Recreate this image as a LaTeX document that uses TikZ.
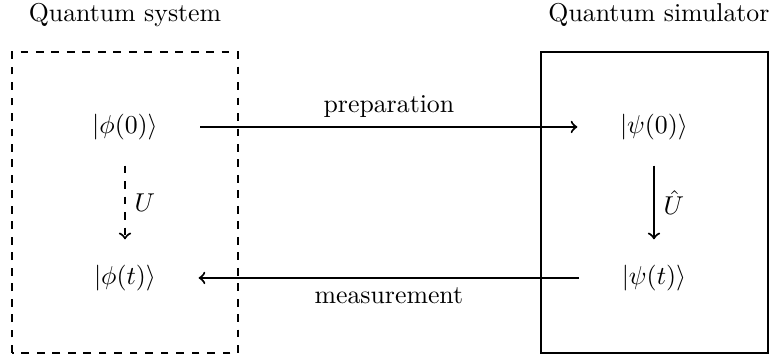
\documentclass[tikz,border=0pt]{standalone}
\usepackage{amsmath, amssymb}
\usetikzlibrary{positioning}

\begin{document}
\begin{tikzpicture}[
    >=to, thick, node distance=2.057cm and 7.207cm, on grid,
    state/.style={inner sep=3.33pt},
    link/.style={->, shorten >=0.45cm, shorten <=0.45cm},
    evol/.style={->, shorten >=0.22cm, shorten <=0.22cm}
]
    \useasboundingbox (0,0) rectangle (10.477,4.85);

    % Frames of the two systems
    \draw[dashed] (0.163,0.041) rectangle (3.243,4.142);
    \draw (7.371,0.041) rectangle (10.463,4.142);

    \node (sys) at (1.703,4.646) {Quantum system};
    \node (sim) at (8.978,4.646) {Quantum simulator};

    \node[state] (phi0) at (1.703,3.12) {$|\phi(0)\rangle$};
    \node[state] (phit) [below=of phi0] {$|\phi(t)\rangle$};
    \node[state] (psi0) [right=of phi0] {$|\psi(0)\rangle$};
    \node[state] (psit) [below=of psi0] {$|\psi(t)\rangle$};

    % Time evolution
    \draw[evol, dashed] (phi0) -- node[right] {$U$} (phit);
    \draw[evol] (psi0) -- node[right] {$\hat{U}$} (psit);

    % Mapping between system and simulator
    \draw[link] (phi0) -- node[above] {preparation} (psi0);
    \draw[link] (psit) -- node[below] {measurement} (phit);
\end{tikzpicture}
\end{document}
